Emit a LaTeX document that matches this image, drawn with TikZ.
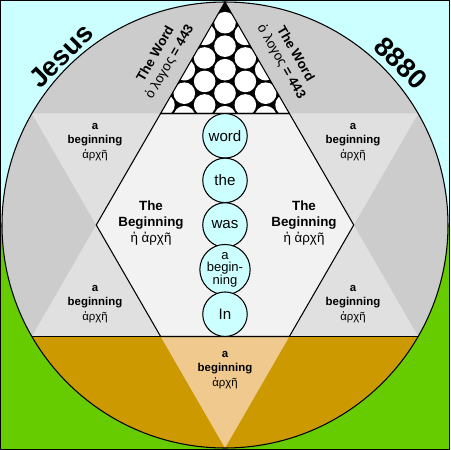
\documentclass[tikz,border=0pt]{standalone}
\usepackage{fontspec}
\setmainfont{Liberation Sans}

\definecolor{skycyan}{HTML}{CCFFFF}
\definecolor{grassgreen}{HTML}{66CC00}
\definecolor{ringgray}{HTML}{CCCCCC}
\definecolor{earthgold}{HTML}{CC9900}
\definecolor{pointgray}{HTML}{E0E0E0}
\definecolor{hexwhite}{HTML}{F2F2F2}
\definecolor{tiptan}{HTML}{EFC98E}

\tikzset{
    outline/.style={draw=black, line width=0.6pt},
    wordball/.style={circle, draw=black, line width=0.6pt, fill=skycyan, minimum size=0.89cm, inner sep=0pt, align=center, font=\fontsize{8.6}{9}\selectfont},
    smallball/.style={wordball, font=\fontsize{7.4}{7.2}\selectfont},
    pointtext/.style={align=center, inner sep=0pt, font=\fontsize{6.5}{8.2}\selectfont},
    hextext/.style={align=center, inner sep=0pt, font=\fontsize{7.6}{9}\selectfont},
    edgetext/.style={align=center, inner sep=0pt, font=\fontsize{7.6}{9.2}\selectfont},
    bigword/.style={inner sep=0pt, font=\fontsize{15.5}{18}\selectfont\bfseries}
}

\begin{document}
\begin{tikzpicture}[x=0.02cm, y=0.02cm]
    \useasboundingbox (-225,-225) rectangle (225,225);

    % Sky and ground
    \fill[skycyan] (-225,0) rectangle (225,225);
    \fill[grassgreen] (-225,-225) rectangle (225,0);

    % Disc
    \fill[ringgray] (0,0) circle (223);
    \begin{scope}
        \clip (0,0) circle (223);
        \fill[earthgold] (-225,-225) rectangle (225,-111.5);
    \end{scope}

    % Star points
    \fill[pointgray] (150:223) -- (120:128.75) -- (180:128.75) -- cycle;
    \fill[pointgray] (210:223) -- (180:128.75) -- (240:128.75) -- cycle;
    \fill[pointgray] (30:223) -- (60:128.75) -- (0:128.75) -- cycle;
    \fill[pointgray] (330:223) -- (0:128.75) -- (300:128.75) -- cycle;
    \fill[tiptan] (270:223) -- (240:128.75) -- (300:128.75) -- cycle;
    \fill[hexwhite] (0:128.75) -- (60:128.75) -- (120:128.75) -- (180:128.75) -- (240:128.75) -- (300:128.75) -- cycle;

    % Top point, packed circles
    \begin{scope}
        \clip (90:223) -- (60:128.75) -- (120:128.75) -- cycle;
        \fill[black] (-70,105) rectangle (70,225);
        \foreach \c in {-3,...,3} {
            \foreach \k in {0,...,5} {
                \fill[white] ({\c*20.35}, {202.3 - abs(\c)*11.75 - \k*23.5}) circle (10.8);
            }
        }
    \end{scope}

    % Outlines
    \draw[outline] (0:128.75) -- (60:128.75) -- (120:128.75) -- (180:128.75) -- (240:128.75) -- (300:128.75) -- cycle;
    \draw[outline] (90:223) -- (60:128.75) -- (120:128.75) -- cycle;
    \draw[outline] (210:223) -- (330:223);
    \draw[outline] (0,0) circle (223);
    \draw[line width=0.8pt] (-224.3,-224.3) rectangle (224.3,224.3);

    % Names on the rim
    \node[bigword, rotate=45] (jesus) at (-164,169) {Jesus};
    \node[bigword, rotate=-45] (number) at (176,162) {8880};

    % The Word, both sides of the top point
    \node[edgetext, rotate=60] (wordleft) at (-62,167) {\textbf{The Word}\\ὁ λογος \textbf{= 443}};
    \node[edgetext, rotate=-60] (wordright) at (63,167) {\textbf{The Word}\\ὁ λογος \textbf{= 443}};

    % A beginning, in each point
    \node[pointtext] (pointul) at (-130,83) {\textbf{a}\\\textbf{beginning}\\ἀρχῆ};
    \node[pointtext] (pointur) at (128,83) {\textbf{a}\\\textbf{beginning}\\ἀρχῆ};
    \node[pointtext] (pointll) at (-130,-79) {\textbf{a}\\\textbf{beginning}\\ἀρχῆ};
    \node[pointtext] (pointlr) at (128,-79) {\textbf{a}\\\textbf{beginning}\\ἀρχῆ};
    \node[pointtext] (pointb) at (0,-145) {\textbf{a}\\\textbf{beginning}\\ἀρχῆ};

    % The Beginning, in the hexagon
    \node[hextext] (beginleft) at (-74,2) {\textbf{The}\\\textbf{Beginning}\\ἡ ἀρχῆ};
    \node[hextext] (beginright) at (79,2) {\textbf{The}\\\textbf{Beginning}\\ἡ ἀρχῆ};

    % Column of words
    \node[wordball] (word) at (0,89.2) {word};
    \node[wordball] (the) at (0,44.6) {the};
    \node[wordball] (was) at (0,0) {was};
    \node[smallball] (abeg) at (0,-44.6) {a\\begin-\\ning};
    \node[wordball] (in) at (0,-89.2) {In};
\end{tikzpicture}
\end{document}
